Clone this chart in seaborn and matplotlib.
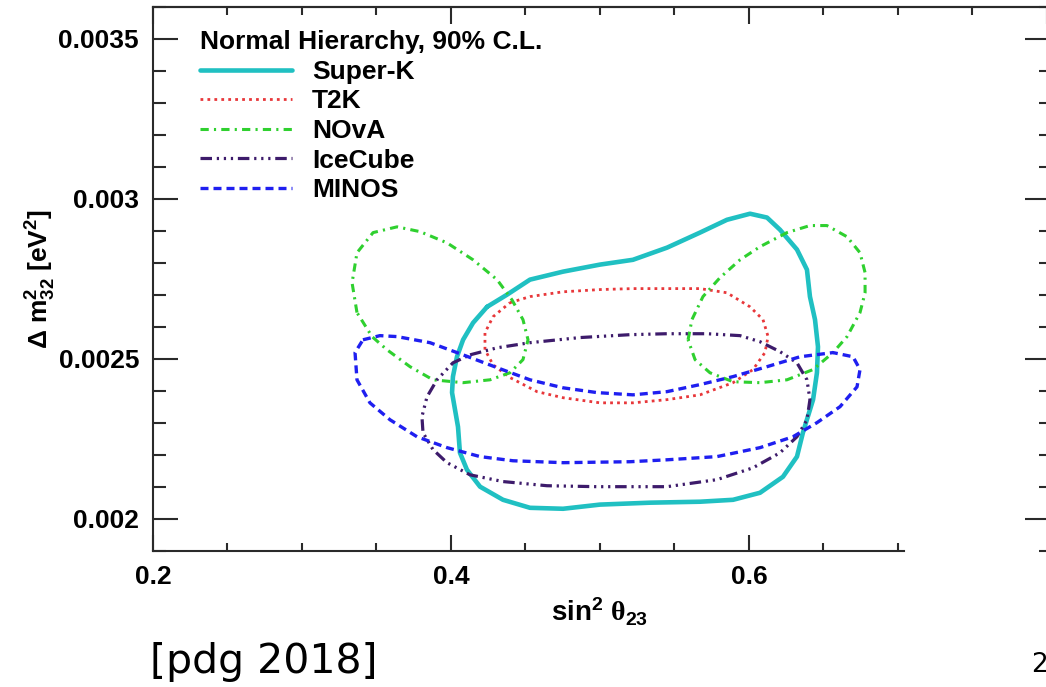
import numpy as np
import pandas as pd
import matplotlib
matplotlib.use("Agg")
import matplotlib.pyplot as plt
import seaborn as sns
from matplotlib.ticker import FixedLocator, FixedFormatter

# ---------------- data (sin^2 theta23, Delta m^2_32 in 1e-3 eV^2) ----------------
experiments = ["Super-K", "T2K", "NOvA", "IceCube", "MINOS"]

superk_s2 = [0.4242, 0.4376, 0.4530, 0.4752, 0.5000, 0.5221, 0.5450, 0.5671, 0.5852, 0.6007,
             0.6121, 0.6208, 0.6322, 0.6389, 0.6409, 0.6443, 0.6463, 0.6456, 0.6430, 0.6362,
             0.6322, 0.6228, 0.6074, 0.5893, 0.5671, 0.5336, 0.5000, 0.4752, 0.4530, 0.4349,
             0.4195, 0.4107, 0.4060, 0.4047, 0.4007, 0.4013, 0.4040, 0.4081, 0.4148]
superk_dm2 = [2.663, 2.701, 2.748, 2.773, 2.795, 2.810, 2.848, 2.895, 2.935, 2.954,
              2.942, 2.904, 2.842, 2.779, 2.695, 2.623, 2.538, 2.457, 2.373, 2.270,
              2.195, 2.132, 2.082, 2.060, 2.054, 2.051, 2.045, 2.032, 2.035, 2.060,
              2.101, 2.154, 2.207, 2.288, 2.395, 2.445, 2.507, 2.560, 2.613]

t2k_s2 = [0.4396, 0.4530, 0.4752, 0.5000, 0.5221, 0.5671, 0.5852, 0.6007, 0.6094, 0.6128,
          0.6107, 0.6027, 0.5893, 0.5671, 0.5450, 0.5221, 0.5000, 0.4752, 0.4577, 0.4396,
          0.4282, 0.4228, 0.4228, 0.4282]
t2k_dm2 = [2.676, 2.695, 2.710, 2.717, 2.720, 2.720, 2.707, 2.663, 2.623, 2.570,
           2.520, 2.467, 2.426, 2.388, 2.373, 2.363, 2.363, 2.379, 2.398, 2.442,
           2.482, 2.529, 2.582, 2.632]

nova_lo_s2 = [0.3369, 0.3336, 0.3369, 0.3477, 0.3638, 0.3792, 0.3973, 0.4148, 0.4309, 0.4409,
              0.4483, 0.4517, 0.4483, 0.4396, 0.4262, 0.4081, 0.3879, 0.3725, 0.3570, 0.3470]
nova_lo_dm2 = [2.645, 2.738, 2.832, 2.895, 2.913, 2.898, 2.863, 2.810, 2.748, 2.685,
               2.623, 2.560, 2.498, 2.457, 2.435, 2.426, 2.435, 2.476, 2.529, 2.570]

nova_hi_s2 = [0.5591, 0.5617, 0.5691, 0.5805, 0.5940, 0.6074, 0.6255, 0.6409, 0.6523, 0.6658,
              0.6745, 0.6779, 0.6779, 0.6745, 0.6658, 0.6564, 0.6430, 0.6255, 0.6074, 0.5893,
              0.5738, 0.5638]
nova_hi_dm2 = [2.560, 2.623, 2.695, 2.754, 2.810, 2.851, 2.895, 2.917, 2.917, 2.882,
               2.832, 2.770, 2.707, 2.645, 2.570, 2.520, 2.467, 2.435, 2.426, 2.429,
               2.457, 2.498]

icecube_s2 = [0.4128, 0.4309, 0.4530, 0.4866, 0.5201, 0.5450, 0.5718, 0.5940, 0.6074, 0.6208,
              0.6322, 0.6389, 0.6409, 0.6389, 0.6322, 0.6208, 0.6027, 0.5785, 0.5450, 0.5201,
              0.4980, 0.4644, 0.4349, 0.4128, 0.3973, 0.3879, 0.3812, 0.3805, 0.3839, 0.3906,
              0.4013]
icecube_dm2 = [2.513, 2.535, 2.551, 2.567, 2.576, 2.579, 2.579, 2.573, 2.554, 2.523,
               2.488, 2.435, 2.373, 2.310, 2.257, 2.207, 2.160, 2.123, 2.101, 2.101,
               2.101, 2.104, 2.117, 2.138, 2.176, 2.217, 2.270, 2.320, 2.382, 2.435,
               2.488]

minos_s2 = [0.3409, 0.3523, 0.3638, 0.3859, 0.4081, 0.4309, 0.4530, 0.4752, 0.4980, 0.5221,
            0.5450, 0.5671, 0.5893, 0.6121, 0.6342, 0.6564, 0.6698, 0.6745, 0.6725, 0.6611,
            0.6456, 0.6295, 0.6074, 0.5785, 0.5450, 0.5201, 0.4752, 0.4416, 0.4195, 0.3973,
            0.3772, 0.3591, 0.3456, 0.3369, 0.3356]
minos_dm2 = [2.560, 2.573, 2.570, 2.551, 2.513, 2.473, 2.435, 2.410, 2.395, 2.388,
             2.398, 2.420, 2.445, 2.476, 2.507, 2.520, 2.507, 2.467, 2.413, 2.351,
             2.301, 2.257, 2.223, 2.195, 2.185, 2.179, 2.176, 2.182, 2.195, 2.223,
             2.257, 2.310, 2.363, 2.435, 2.520]

dm2_unit = 1e-3

x_major_bottom = [0.2, 0.4, 0.6]
x_major_labels = ["0.2", "0.4", "0.6"]
x_minor_bottom = [0.25, 0.3, 0.35, 0.45, 0.5, 0.55, 0.65, 0.7]
x_major_top = [0.2, 0.4, 0.6, 0.8]
x_minor_top = [0.25, 0.3, 0.35, 0.45, 0.5, 0.55, 0.65, 0.7, 0.75]
y_major = [0.002, 0.0025, 0.003, 0.0035]
y_major_labels = ["0.002", "0.0025", "0.003", "0.0035"]
y_minor = [round(v, 5) for v in np.arange(0.0019, 0.00361, 0.0001)]

legend_title = "Normal Hierarchy, 90% C.L."

# ---------------- table ----------------
contours = [
    ("Super-K", "a", superk_s2, superk_dm2),
    ("T2K", "a", t2k_s2, t2k_dm2),
    ("NOvA", "a", nova_lo_s2, nova_lo_dm2),
    ("NOvA", "b", nova_hi_s2, nova_hi_dm2),
    ("IceCube", "a", icecube_s2, icecube_dm2),
    ("MINOS", "a", minos_s2, minos_dm2),
]
frames = []
for name, lobe, xs, ys in contours:
    xs_c = list(xs) + [xs[0]]
    ys_c = [v * dm2_unit for v in (list(ys) + [ys[0]])]
    frames.append(pd.DataFrame({"experiment": name, "lobe": lobe,
                                "s2t": xs_c, "dm2": ys_c}))
df = pd.concat(frames, ignore_index=True)

styles = {
    "Super-K": dict(color="#20c0c2", linewidth=3.3, linestyle="-"),
    "T2K": dict(color="#e8373a", linewidth=2.0, linestyle=(0, (1.0, 1.5))),
    "NOvA": dict(color="#2fd02f", linewidth=2.2, linestyle=(0, (2.7, 1.7, 0.7, 1.7))),
    "IceCube": dict(color="#3d1b6b", linewidth=2.3,
                    linestyle=(0, (3.6, 1.5, 0.7, 1.5, 0.7, 1.5, 0.7, 1.5))),
    "MINOS": dict(color="#1f1ff0", linewidth=2.4, linestyle=(0, (2.4, 1.5))),
}

# ---------------- style ----------------
sns.set_theme(style="ticks")
plt.rcParams["font.family"] = ["Liberation Sans", "DejaVu Sans"]
plt.rcParams["font.weight"] = "bold"
plt.rcParams["text.color"] = "black"
plt.rcParams["axes.labelcolor"] = "black"
plt.rcParams["mathtext.fontset"] = "custom"
plt.rcParams["mathtext.rm"] = "Liberation Sans"
plt.rcParams["mathtext.bf"] = "Liberation Sans:bold"
plt.rcParams["mathtext.it"] = "Liberation Serif"
plt.rcParams["mathtext.sf"] = "Liberation Sans"
plt.rcParams["mathtext.default"] = "rm"

fig = plt.figure(figsize=(10.46, 6.87), dpi=100)
ax = fig.add_axes([153 / 1046, 136 / 687, 894 / 1046, 544 / 687])

handles = []
for name in experiments:
    sub = df[df["experiment"] == name]
    sns.lineplot(data=sub, x="s2t", y="dm2", units="lobe", estimator=None,
                 sort=False, ax=ax, legend=False,
                 solid_joinstyle="round", dash_joinstyle="round",
                 **styles[name])
    handles.append(ax.lines[-1])

ax.set_xlim(0.2, 0.8)
ax.set_ylim(0.0019, 0.0036)

spine_color = "#2a2a2a"
for s in ax.spines.values():
    s.set_linewidth(1.5)
    s.set_color(spine_color)
ax.spines["right"].set_visible(False)
ax.spines["bottom"].set_bounds(0.2, 0.704)

ax.xaxis.set_major_locator(FixedLocator(x_major_bottom))
ax.xaxis.set_major_formatter(FixedFormatter(x_major_labels))
ax.xaxis.set_minor_locator(FixedLocator(x_minor_bottom))
ax.yaxis.set_major_locator(FixedLocator(y_major))
ax.yaxis.set_major_formatter(FixedFormatter(y_major_labels))
ax.yaxis.set_minor_locator(FixedLocator(y_minor))

ax.tick_params(axis="y", which="major", direction="in", length=18, width=1.5,
               pad=10, labelsize=19, color=spine_color, labelcolor="black",
               left=True, right=False)
ax.tick_params(axis="y", which="minor", direction="in", length=9.4, width=1.5,
               color=spine_color, left=True, right=False)
ax.tick_params(axis="x", which="major", direction="in", length=11.5, width=1.5,
               pad=10, labelsize=19, color=spine_color, labelcolor="black",
               bottom=True, top=False)
ax.tick_params(axis="x", which="minor", direction="in", length=5.8, width=1.5,
               color=spine_color, bottom=True, top=False)
for lab in ax.get_xticklabels() + ax.get_yticklabels():
    lab.set_fontweight("bold")

secx = ax.secondary_xaxis("top")
secx.xaxis.set_major_locator(FixedLocator(x_major_top))
secx.xaxis.set_minor_locator(FixedLocator(x_minor_top))
secx.tick_params(which="major", direction="in", length=12.5, width=1.5,
                 color=spine_color, labeltop=False)
secx.tick_params(which="minor", direction="in", length=5.8, width=1.5,
                 color=spine_color)
for s in secx.spines.values():
    s.set_linewidth(1.5)
    s.set_color(spine_color)

secy = ax.secondary_yaxis("right")
secy.yaxis.set_major_locator(FixedLocator(y_major))
secy.yaxis.set_minor_locator(FixedLocator(y_minor))
secy.tick_params(which="major", direction="in", length=15.5, width=1.5,
                 color=spine_color, labelright=False)
secy.tick_params(which="minor", direction="in", length=6, width=1.5,
                 color=spine_color)
for s in secy.spines.values():
    s.set_linewidth(1.5)
    s.set_color(spine_color)

ax.set_xlabel(r"sin$^{\mathbf{2}}$ $\mathit{\theta}_{\mathbf{23}}$", fontsize=20,
              fontweight="bold")
ax.xaxis.set_label_coords(0.5, -0.083)
ax.set_ylabel(r"$\Delta\ \mathbf{m^{2}_{32}}$ [eV$^{\mathbf{2}}$]", fontsize=19,
              fontweight="bold")
ax.yaxis.set_label_coords(-0.106, 0.5)

leg = ax.legend(handles, experiments, title=legend_title, loc="upper left",
                bbox_to_anchor=(0.0526, 0.957), frameon=False, fontsize=19,
                title_fontsize=19, handlelength=3.5, handletextpad=0.75,
                labelspacing=0.21, borderpad=0, borderaxespad=0,
                alignment="left")
leg.get_title().set_fontweight("bold")
for t in leg.get_texts():
    t.set_fontweight("bold")

fig.text(150 / 1046, 1 - 673 / 687, "[pdg 2018]", fontsize=29.5, fontweight="normal",
         family="DejaVu Sans", ha="left", va="baseline")
fig.text(1031 / 1046, 1 - 672 / 687, "2", fontsize=19, fontweight="normal",
         family="DejaVu Sans", ha="left", va="baseline")

fig.savefig("out.png", dpi=100)
